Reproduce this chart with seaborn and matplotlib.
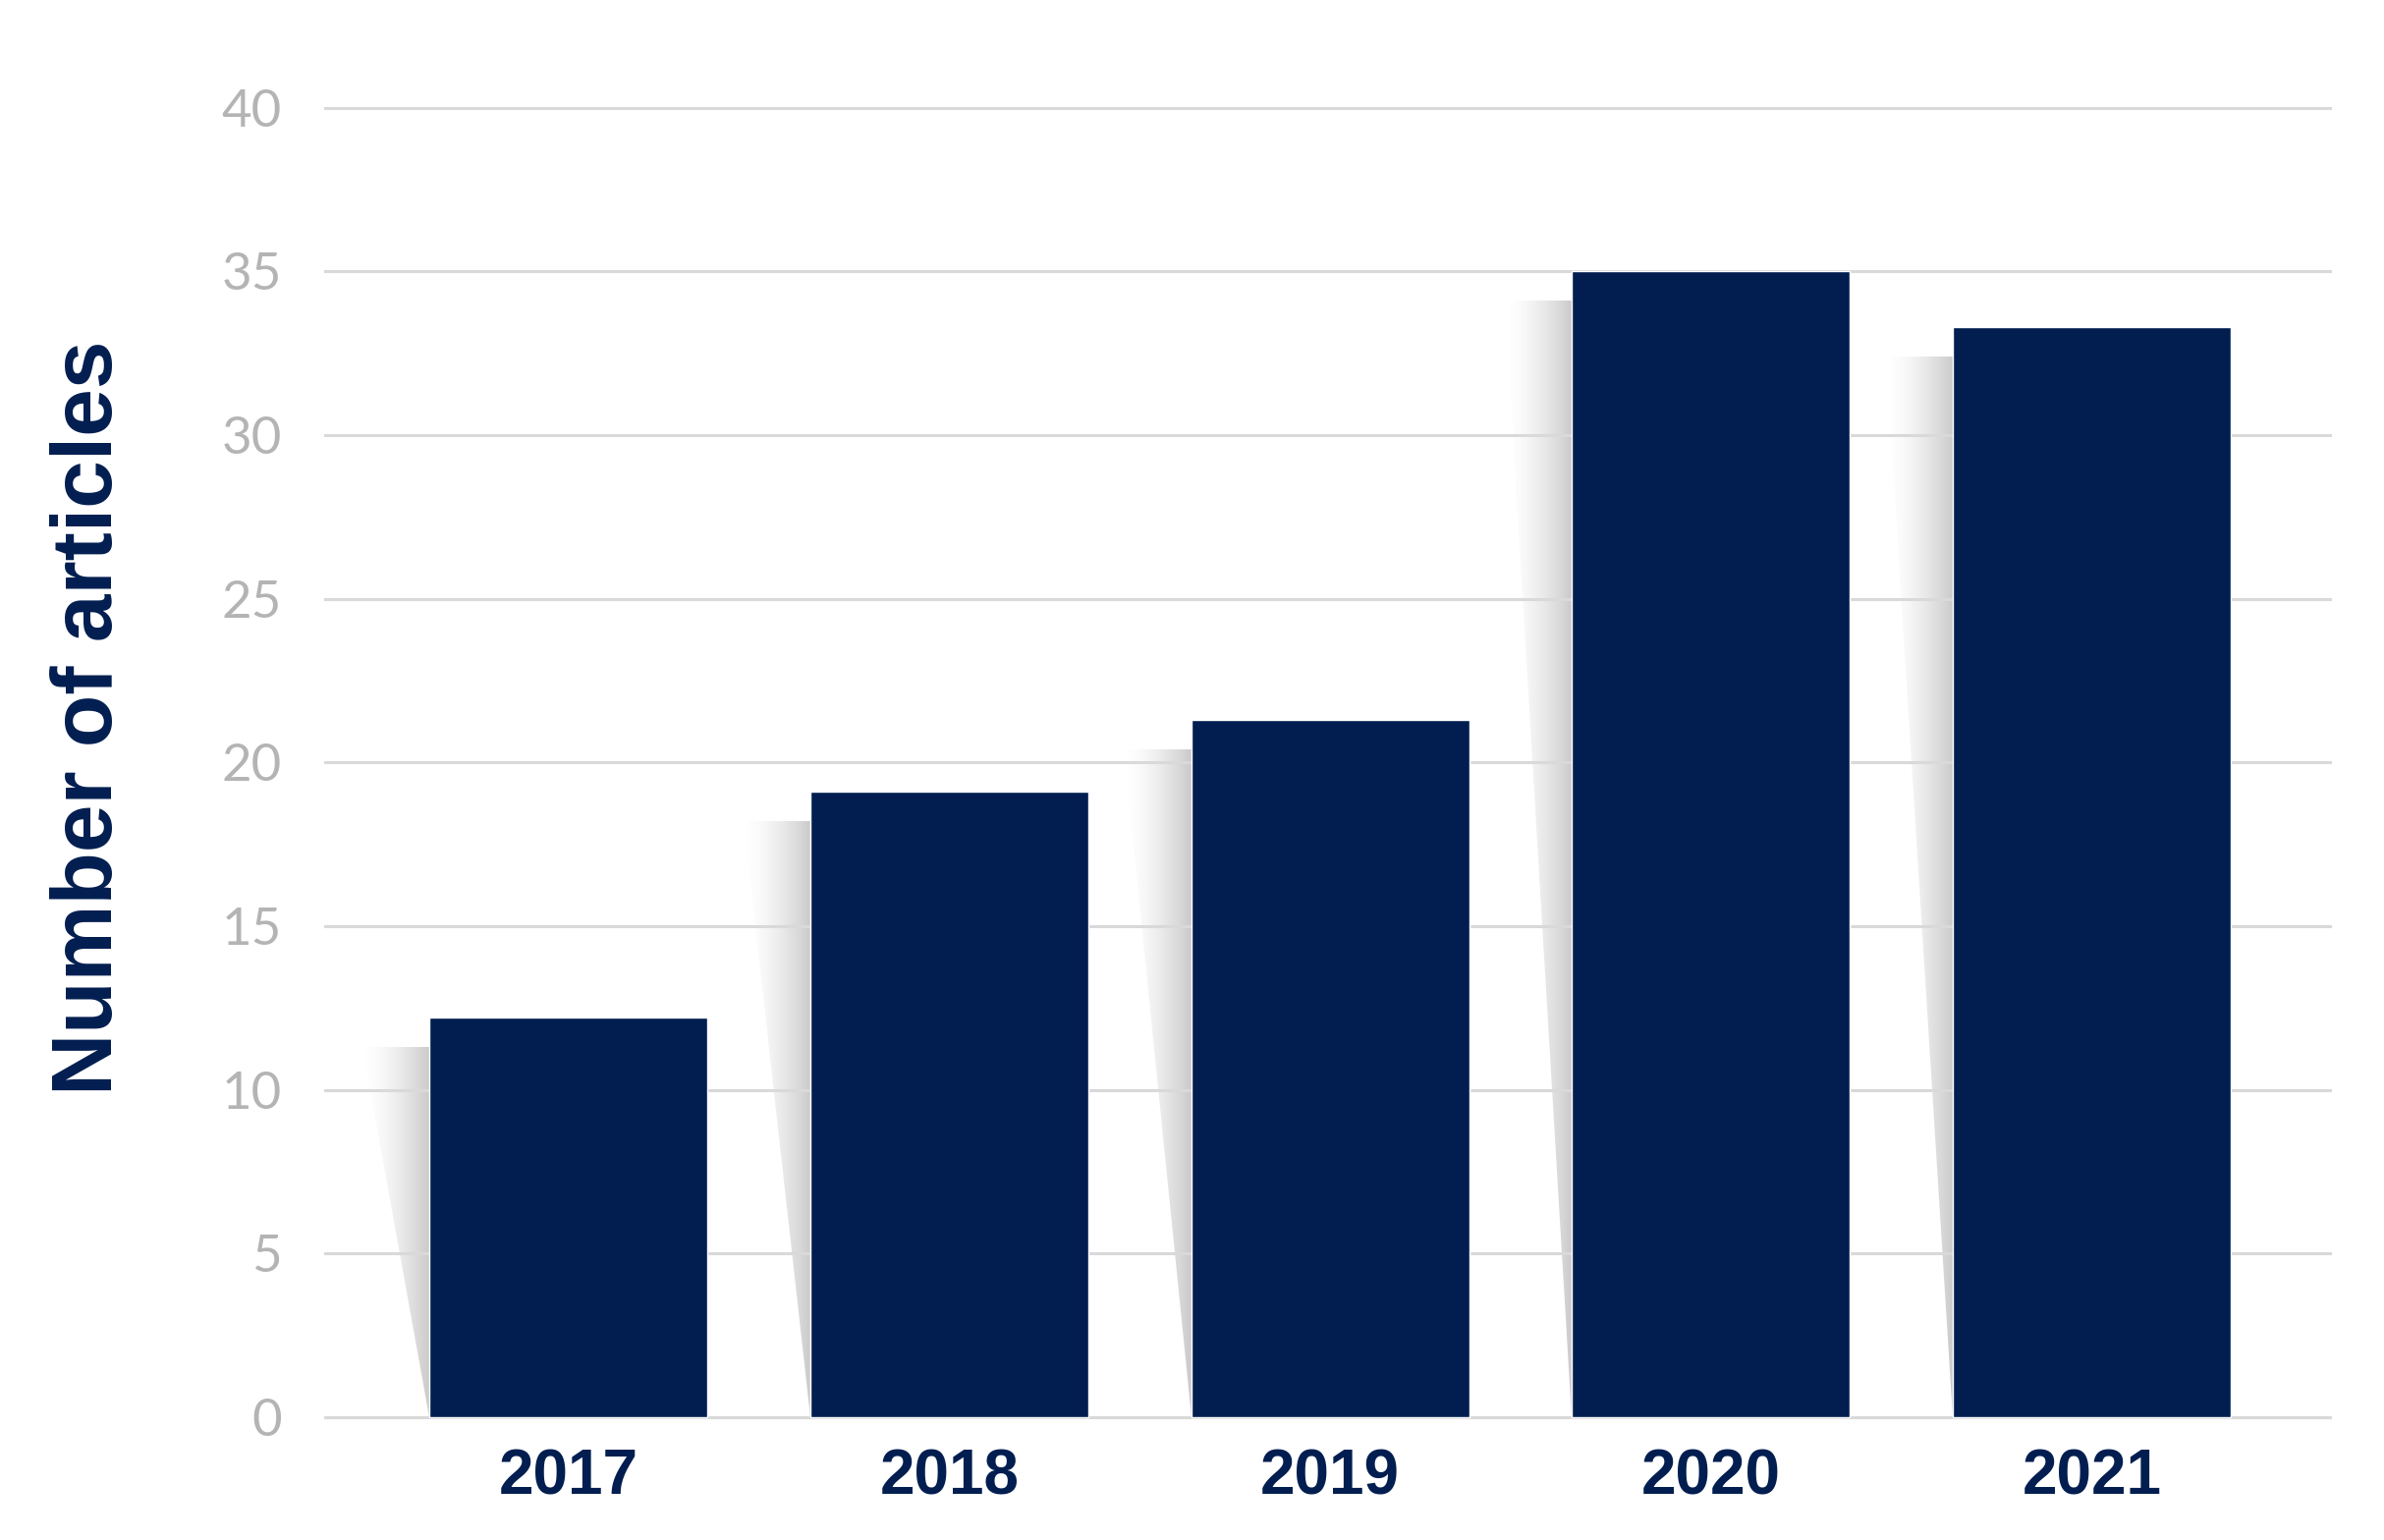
import matplotlib

matplotlib.use("Agg")
import matplotlib.pyplot as plt
import numpy as np
import pandas as pd
import seaborn as sns
from matplotlib.patches import Polygon

years = ["2017", "2018", "2019", "2020", "2021"]
articles = [12.2, 19.1, 21.3, 35.0, 33.3]
y_ticks = [0, 5, 10, 15, 20, 25, 30, 35, 40]

navy = "#021E50"
grid_grey = "#D9D9D9"
tick_grey = "#B4B4B4"

df = pd.DataFrame({"year": years, "articles": articles})

sns.set_style("white")
plt.rcParams["font.family"] = ["Liberation Sans", "DejaVu Sans"]

fig = plt.figure(figsize=(24.27, 15.68), dpi=100)
ax = fig.add_axes([0.136, 0.0735, 0.842, 0.8628])

sns.barplot(data=df, x="year", y="articles", color=navy, saturation=1,
            width=0.73, ax=ax, zorder=3)

# soft slanted shadow on the left of each bar
grad = np.linspace(0, 1, 256) ** 1.6
rgba = np.zeros((1, 256, 4))
rgba[..., :3] = 0.45
rgba[..., 3] = grad * 0.38
for p in list(ax.patches):
    x0 = p.get_x()
    h = p.get_height()
    top = h - 0.9
    dx = 0.176
    poly = Polygon([(x0 - dx, top), (x0, top), (x0, 0)], closed=True,
                   facecolor="none", edgecolor="none")
    ax.add_patch(poly)
    im = ax.imshow(rgba, extent=(x0 - dx, x0, 0, top), aspect="auto",
                   interpolation="bilinear", zorder=1)
    im.set_clip_path(poly)

ax.set_xlim(-0.642, 4.63)
ax.set_ylim(-0.3, 40.3)
ax.set_yticks(y_ticks)
ax.yaxis.grid(True, color=grid_grey, linewidth=2.2, zorder=2)
ax.set_axisbelow(False)
for gl in ax.get_ygridlines():
    gl.set_zorder(2)
sns.despine(ax=ax, left=True, bottom=True)
ax.tick_params(axis="both", length=0)
ax.tick_params(axis="y", pad=31)
ax.tick_params(axis="x", pad=16)

for lab in ax.get_yticklabels():
    lab.set_fontfamily(["Lato", "DejaVu Sans"])
    lab.set_fontsize(38)
    lab.set_color(tick_grey)
for lab in ax.get_xticklabels():
    lab.set_fontsize(46)
    lab.set_fontweight("bold")
    lab.set_color(navy)

ax.set_xlabel("")
ax.set_ylabel("Number of articles", fontsize=63, fontweight="bold", color=navy)
ax.yaxis.set_label_coords(-0.097, 0.534)

fig.savefig("out.png", dpi=100, facecolor="white")
